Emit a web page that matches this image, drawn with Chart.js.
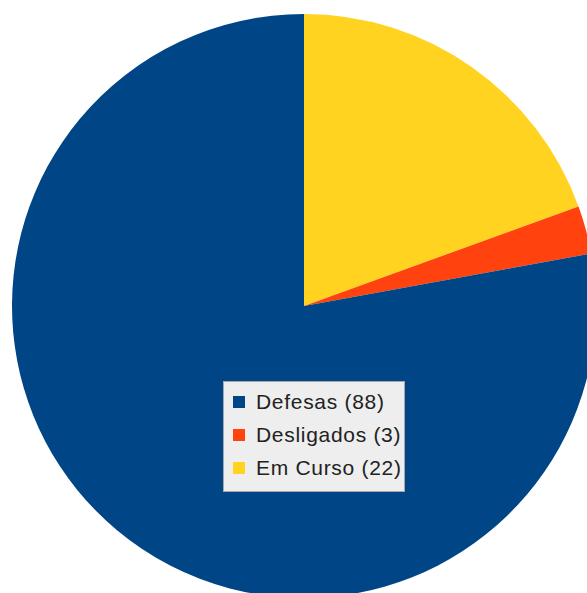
<!DOCTYPE html>
<html>
<head>
<meta charset="utf-8">
<script src="https://cdn.jsdelivr.net/npm/chart.js@4/dist/chart.umd.min.js"></script>
<style>
  html, body { margin: 0; padding: 0; background: #fff; overflow: hidden; width: 587px; height: 593px; }
  #div_canva { position: absolute; left: 12px; top: 14px; width: 584px; height: 584px; }
  #legenda {
    position: absolute; left: 223px; top: 381px; width: 180px; height: 106px;
    background: #eeeeee; border: 1px solid #a8a8a8; padding: 3px 0 0 0;
    font-family: "Liberation Sans", Arial, sans-serif; font-size: 21px; letter-spacing: 0.7px; color: #222;
    box-sizing: content-box;
  }
  .item { height: 33px; display: flex; align-items: center; padding-left: 9px; white-space: nowrap; }
  .quadrado { width: 12px; height: 12px; margin-right: 11px; flex: none; }
</style>
</head>
<body>
<div id="div_canva"><canvas id="myChart"></canvas></div>
<div id="legenda"></div>
<script>
// ordem do desenho (sentido horário a partir do topo)
const categorias = ['Em Curso', 'Desligados', 'Defesas'];
const valores = [22, 3, 88];
const cores = ['#ffd320', '#ff420e', '#004586'];

const ctx = document.getElementById('myChart');

new Chart(ctx, {
  type: 'pie',
  data: {
    labels: categorias,
    datasets: [{
      data: valores,
      backgroundColor: cores,
      borderWidth: 0
    }]
  },
  options: {
    responsive: true,
    maintainAspectRatio: false,
    animation: false,
    layout: { padding: 0 },
    plugins: {
      legend: { display: false },
      tooltip: { enabled: false }
    }
  }
});

// legenda em ordem inversa, como no original
const legenda = document.getElementById('legenda');
for (let i = categorias.length - 1; i >= 0; i--) {
  const linha = document.createElement('div');
  linha.className = 'item';
  linha.innerHTML = `<span class="quadrado" style="background:${cores[i]}"></span><span>${categorias[i]} (${valores[i]})</span>`;
  legenda.appendChild(linha);
}
</script>
</body>
</html>
